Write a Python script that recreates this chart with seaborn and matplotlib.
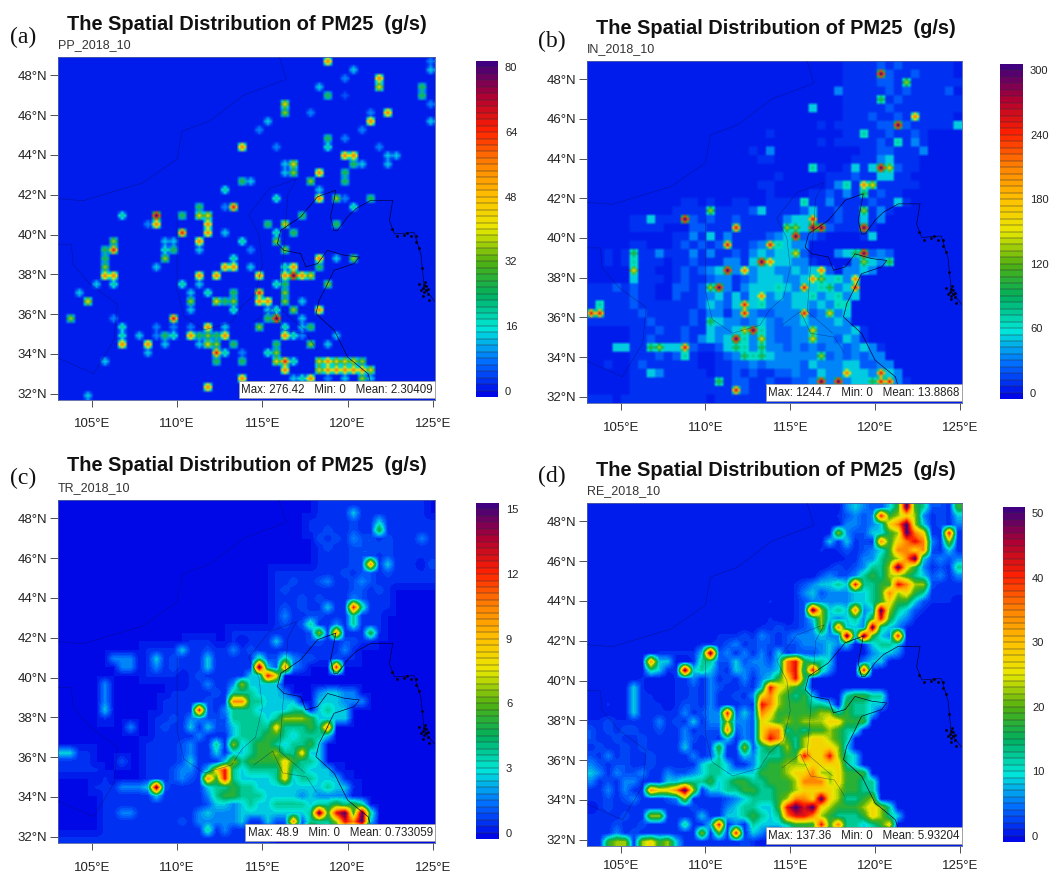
import numpy as np
import matplotlib
matplotlib.use('Agg')
import matplotlib.pyplot as plt
from matplotlib.colors import ListedColormap, Normalize
import seaborn as sns

sns.set_style('ticks')
plt.rcParams['font.family'] = ['Liberation Sans', 'DejaVu Sans']

W, H = 1062, 874
N_COLS, N_ROWS = 44, 40

# share of the colour bar maximum for each letter in the grids below
level_share = {'.': 0, ',': 0.025, '1': 0.06, '2': 0.11, '3': 0.17, '4': 0.25, '5': 0.35,
               '6': 0.45, '7': 0.55, '8': 0.7, '9': 0.85, 'p': 1.02}

# PP: isolated sources, "column:level" for each row
pp_rows = [
    "31:8 43:2", "34:3 43:3", "33:2 37:8", "30:3 37:7 42:5", "31:5 33:1 42:5",
    "26:7 43:2", "26:6 29:2 36:2 38:8", "24:3 36:8 43:3", "23:2 35:2", "31:5 33:2",
    "21:8 25:2 31:4 37:2", "33:8 34:8 38:3 39:3", "26:3 27:7 34:5 35:3 38:3", "26:3 27:6 30:8 33:5",
    "21:5 22:3 29:6 33:5", "19:4 30:3", "25:4 30:8 32:6 33:2 36:5", "16:5 19:2 20:9 34:4",
    "7:4 11:p 14:5 16:7 17:7 28:5", "10:2 11:8 17:8 24:5 26:7 32:5", "14:9 17:8 19:3 25:4 27:5",
    "6:6 12:3 13:3 16:8 21:4 25:6", "5:5 6:9 12:4 13:5 16:3 22:2 26:6", "5:5 12:6 20:4 30:8 32:3 34:6",
    "5:6 11:3 19:8 20:8 22:3 26:4 27:8 30:5", "5:8 6:8 16:8 18:8 23:8 26:8 27:p 28:8 29:7",
    "4:3 6:4 14:4 16:3 25:4 26:5 31:6", "2:3 15:3 17:4 20:5 23:9 26:6",
    "3:7 15:6 18:7 19:5 20:6 23:8 24:8 26:6 28:3", "15:3 20:4 24:3 25:4 27:6 30:8",
    "1:6 6:2 13:9 24:5 25:p 28:3", "7:4 11:2 13:2 15:2 17:8 19:3 23:6 26:4 28:3 29:5",
    "7:4 9:3 11:2 12:5 13:4 15:8 16:5 17:6 18:5 19:8 26:8 27:4 28:2 32:3",
    "7:8 10:8 12:3 16:3 17:7 18:6 20:5 25:5 29:6 31:3", "10:3 18:9 19:4 21:2 24:4 25:6",
    "5:3 18:5 21:5 25:7 26:9 27:4 30:7 31:8 32:7 33:7 34:7 35:6",
    "26:8 30:7 31:8 32:8 33:8 34:8 35:8 36:7", "21:8 27:3 28:4 29:8 31:2 33:3 35:6 36:3",
    "17:8 29:7 35:2", "3:3",
]

in_rows = [
    "..... ..... ..... ..... ..... ..... ,,,,1 ,1,,, ,,,.",
    "..... ..... ..... ..... ..... ..... ,,,,p 1,,1, ,,,.",
    "..... ..... ..... ..... ..... ..... ,,,,1 1,6,, ,,,,",
    "..... ..... ..... ..... ..... ....2 ,,,,, 1,1,, ,,1.",
    "..... ..... ..... ..... ..... ..... ,,,,5 ,1,,, ,,,,",
    "..... ..... ..... ..... ..... .3... ,,,,, 1,,,, ,,,,",
    "..... ..... ..... ..... ..... ..... ,,,1, ,1,8, ,,,.",
    "..... ..... ..... ..... ..... ..,., ,,,,1 1p1,, ,,,3",
    "..... ..... ..... ..... .,... ..... ,,4,, 1,,1, ....",
    "..... ..... ..... ..... ..... ..,., ,,,,1 ,4,2, ....",
    "..... ..... ..... ...., .2... ..... ..,,1 1,,,2 ....",
    "..... ..... ..... ..... ,,... ..... .,,,2 3,,,. ....",
    "..... ..... ..... ..... ..... .4,.. ,3,3p 71,,. ....",
    "..... ..... ..... ..... ..,.. ...,, ,1,,3 3,,.. ....",
    "..... ..... ..... ..... ,,... ...,2 4,87, ,,,,. ....",
    "..... ..... ..... ..... .,... .,,1, 2,5,1 ,,... ....",
    "..... ..... .,,., ..,,. .,,,, 4,,2, ,,,1, ,3,.. ....",
    "..... ..... ,,,,6 ,,,,1 3,,,, 13,,1 ,,6,2 ,.... ....",
    "..... ,,3,, ,p1,1 ,,1,, ,,,23 39,,1 ,,3,2 ..... ....",
    "..... ,,,,. ..11, ,,9,, ,,,66 3pp1, ,,p,. ..... ....",
    "..... ..... ,,2,3 ,2,,, ,123p 11,.. ..,3. ..... ....",
    "..... ,,... ,1,1, 19,,1 29432 2.... ..... ..... ....",
    "..,., 5,,2, ,,2,2 ,,1,2 32337 1...2 35p12 1.... ....",
    "..,., 4,,,. ,,1,, ,22,3 p8332 2,... .2632 5.... ....",
    "..... 7,,.. ,1,12 3p282 33223 2381. 2232. ..... ....",
    "..... 3,,,. ,1,,1 22,12 33322 38634 28... ..... ....",
    ",,,1, 1,,.. 11,16 p2,23 33432 93452 39... ..... ....",
    ",,,,, 1,,.. 1,,12 31313 82323 34234 23... ..... ....",
    ",4,,, 1,,,, ,,,13 21393 42223 32324 4.... ..... ....",
    "99,,, ,1,,, ,,1,2 2,292 11222 91272 3.... ..... ....",
    ",,,,, ,,1,, ,,1,5 32212 32122 32223 2.... ..... ....",
    "..... ,,,1, ,1,,3 2237p 42112 27222 23,.. ..... ....",
    "..... ,,1,, ,1,23 23p42 72112 27221 32,.. ..... ....",
    "...33 ,,563 391,, 13542 52212 12122 1232, ..... ....",
    "..... ,,,1, 14,.. ,1254 53222 22612 12122 ..... ....",
    "..,.. ,1,,, ,,,.. ,,112 12222 13222 33112 2.... ....",
    "..... ,,32, ,,,,. ,,1,1 ,,112 11322 83329 32... ....",
    "..... ,,,,, ,,,,, 5,11, ,1,,1 12p2p 23359 92,.. ....",
    "..... ,,,,, ,,,,, ,,91, ,,1,1 11,,p 1,234 43,.. ....",
    ",,,., ,,,,, ,,,,. ,,,,, ,,,,, ..... ..... ..... ....",
]

tr_rows = [
    "..... ..... ..... ..... ..... ..... ,,,,, ,,,,, ,,,.",
    "..... ..... ..... ..... ..... ..... ,,,,3 ,,,,, ,,,.",
    "..... ..... ..... ..... ..... ...., ,,,,1 ,,3,, ,,,,",
    "..... ..... ..... ..... ..... ...., ,1,,1 ,,5,, ,,,,",
    "..... ..... ..... ..... ..... ..... 1,1,2 11,1, ,,2,",
    "..... ..... ..... ..... ..... ..... ,1,,1 1111, ,,,,",
    "..... ..... ..... ..... ..... ..... ,,,,1 11,1, ,,,,",
    "..... ..... ..... ..... ..... ..... ,,,,1 18,3, ,,.1",
    "..... ..... ..... ..... ..... ,,,,, ,,,1, 11,1, ,,,,",
    "..... ..... ..... ..... ..... ,,1,, 12,,1 21,,, ,,,,",
    "..... ..... ..... ..... ..... ,1,,, ,,,,1 1,1,. ....",
    "..... ..... ..... ..... ..... ,,,1, 1,,,2 1,,,. ....",
    "..... ..... ..... ..... ..... ,1,1, ,3,,9 4,,,. ....",
    "..... ..... ..... ..... ..... ,2,,1 1,,,4 ,,,.. ....",
    "..... ..... ..... ..... ..... ,1,14 ,,2,4 ,,,.. ....",
    "..... ..... ..... ..... ,,,,, ,,,,1 6,8,, ,5,.. ....",
    "..... ..... ..... ,,,.. ,.,,, 3,,,1 1,,11 ,,... ....",
    "..... ..... ,,,,3 ,,1,, 2,1,, ,,,,, ,,,2, ..... ....",
    "..... .222. ,3,1, ,,3,, ,,,41 14211 ,,1,, ..... ....",
    "..... ..22. ,2,1, ,,3,, ,,,p3 1821. ..9.. ..... ....",
    "..... ..... ,,,,. ,1,,, ,,339 7.... ..... ..... ....",
    "..... 2.... ..... ,,2,, 26333 3.... ..... ..... ....",
    "..... 2.... ...,, ,,,1, 44433 32... 23322 ..... ....",
    "..... 2.... ..,,, ,,1,, 88443 333.. 33322 2.... ....",
    "..... 3.... ..,,, ,91,2 44433 3344. 3433. ..... ....",
    "..... ,.... .,,1, 22111 44443 46665 3333. ..... ....",
    "..... ...2. .,1,, 3,311 34444 74445 48... ..... ....",
    "..... ..... .,,,, ,2,,, 34445 54344 43... ..... ....",
    "..... ..... ,,,,1 2,,4, 63455 43445 3.... ..... ....",
    "33,,. ..... ,,,,1 2,,3, 33455 64473 3.... ..... ....",
    ",,,,. ..1.. ,,,,1 3,,,3 64555 57544 3.... ..... ....",
    ",,,,, ..... ,,,12 2,379 43444 47443 33,.. ..... ....",
    "..... ,.... ,,,12 1,859 43333 47344 333,. ..... ....",
    "...., ,,222 3p1,, ,,344 54433 33333 3433, ..... ....",
    "..... ,,,,, ,3,,, ,,245 54443 33323 2222. ..... ....",
    "..... ,,,,, ,,,,, ,,133 23433 44443 44545 4.... ....",
    "..... ,,22, ,,,,, ,2322 23333 33334 p59p5 p4... ....",
    "..... ,,,,, ,,,,1 ,2222 23,,3 11814 44698 p3... ....",
    "..... ,,,,, ,,,,, ,,4,2 ,,,,, ,,,17 43454 4.... ....",
    ",,,,, ,,,,, ,,,,, ,,,,, ,,,,, ..... ..... ..... ....",
]

re_rows = [
    "..... ..... ..... ..... ..... ..... 23211 35p54 11,5",
    "..... ..... ..... ..... ..... ...., 12129 56762 ,1,3",
    "..... ..... ..... ..... ..... ..... 22123 78p63 ,1,2",
    "..... ..... ..... ..... ..... ....6 21133 56p87 ,,9,",
    "..... ..... ..... ..... ..... ...3, 3,1,8 57898 2,6,",
    "..... ..... ..... ..... ..... ..,., 1,123 58878 1,3,",
    "..... ..... ..... ..... ..... ..... ,,224 568p3 1212",
    "..... ..... ..... ..... ..... ...,1 ,1244 6p752 ,1,4",
    "..... ..... ..... ..... ..... ..121 12454 66543 12,2",
    "..... ..... ..... ..... ...., 12334 39445 59866 1,,,",
    "..... ..... ..... ..... ...., 23122 23345 86754 ,,,,",
    "..... ..... ..... ..... .,.., 12222 23345 75531 ,,,.",
    "..... ..... ..... ..... ...., 1p634 3823p 6431, ....",
    "..... ..... ..... ..... .,.., 13632 34259 532,. ....",
    "..... ..... ..... ..... ,,1,, 12618 332p4 32,.. ....",
    "..... ..... ..... ,,,1, 21,12 22322 p3p53 29... ....",
    "..... ..... ...,, ,12,1 11,11 22232 3.,34 43... ....",
    "..... ...,, ,,,3p 12,2, 2,3,1 1123. ...23 32... ....",
    "..... ..833 ..,44 11312 21389 5443. ..233 ..... ....",
    "..... ..43, ,p343 1,321 22389 4942. ..9,. ..... ....",
    "..... .,... ,,2,2 ,1,2, 23579 5.... ..... ..... ....",
    "..... 3,... ,,1,2 1,,1, 39765 4.... ..... ..... ....",
    "..... 3,,.. ,,1,2 ,,1,2 78654 53... 45544 ..... ....",
    "..,.. 3,,,. ,11,2 ,,,1, 98655 5443. 54433 ..... ....",
    "..... 3,,,, ,2,12 29131 87555 55664 5443. ..... ....",
    ",,1,, ,,,2, 1,3,2 26221 76565 66677 555.. ..... ....",
    "1,1,1 1,,1, ,2,11 18121 78845 45565 44... ..... ....",
    "1,,1, ,1,,, ,21,1 ,3,21 79854 67765 4.... ..... ....",
    ",1,,1 ,1,,, ,3,,1 5,,61 45464 67776 3.... ..... ....",
    "1,2,1 ,,1,, ,,2,1 4,,32 44455 97796 43... ..... ....",
    "21,11 ,,1,, ,,,34 43,,2 45566 67777 43... ..... ....",
    "32,21 12,,2 11234 43333 55567 78667 555.. ..... ....",
    "2,1,2 2,,,3 34445 34554 45556 88867 5544. ..... ....",
    ",,2,2 ,,877 8p6,3 34455 44556 77776 5544. ..... ....",
    ",,1,1 2,,,1 26,,, ,1234 44568 87p76 4456. ..... ....",
    ".,1,, ,,,,, ,,1,, ,2344 3359p 9p765 55676 4.... ....",
    ",,,,1 ,,66, ,,,3, ,3345 43489 98654 44576 43... ....",
    ",,,1, ,1,,, ,4,,3 9,2,4 33345 55958 44345 7.... ....",
    ",,,2, 1,,,, ,,,6, 5,9,3 2,,,4 56555 44334 3.... ....",
    ",,566 ,6756 3,,,, ,,,1, ..... ..... ..... ..... ....",
]

run_names = ['PP_2018_10', 'IN_2018_10', 'TR_2018_10', 'RE_2018_10']
panel_tags = ['(a)', '(b)', '(c)', '(d)']
bar_max = [80, 300, 15, 50]
bar_step = [16, 60, 3, 10]
stats_text = ['Max: 276.42   Min: 0   Mean: 2.30409', 'Max: 1244.7   Min: 0   Mean: 13.8868',
              'Max: 48.9   Min: 0   Mean: 0.733059', 'Max: 137.36   Min: 0   Mean: 5.93204']
title_text = 'The Spatial Distribution of PM25  (g/s)'

lon_ticks = [105, 110, 115, 120, 125]
lat_ticks = [48, 46, 44, 42, 40, 38, 36, 34, 32]

# coastline and borders, lon then lat
coast_lon = [125.1, 124.5, 124.3, 123.9, 122.75, 122.45, 122.65, 121.37, 120.49, 120.0, 119.41, 119.2, 119.0, 119.2, 119.3,
             118.24, 117.25, 116.08, 115.88, 116.27, 117.25, 117.55, 118.24, 118.82, 119.8, 120.69, 120.39, 119.2,
             118.73, 118.33, 118.14, 119.22, 120.0, 121.2, 121.37]
coast_lat = [36.65, 37.3, 39.0, 40.1, 40.03, 40.7, 41.72, 41.72, 41.3, 40.89, 40.2, 40.2, 40.89, 41.72, 42.23,
             41.9, 40.89, 40.21, 39.54, 39.2, 39.04, 38.37, 38.54, 39.2, 38.96, 38.87, 38.54, 38.2,
             37.36, 36.69, 36.02, 35.18, 33.84, 33.0, 32.5]
island_lon = [124.2, 124.4, 124.5, 124.6, 124.7, 124.45, 124.55, 123.3, 123.7, 124.0, 124.8, 124.35, 124.3, 124.6, 124.5,
              124.7, 122.6, 122.9, 123.5, 124.2, 124.0]
island_lat = [37.5, 37.3, 37.1, 37.4, 37.0, 36.9, 37.6, 40.0, 39.9, 39.6, 36.7, 38.3, 37.2, 37.2, 37.45, 37.25, 40.3, 39.9,
              40.1, 39.3, 39.9]
border_lon = [103.0, 104.5, 108.0, 110.0, 110.3, 111.9, 113.9, 116.4, 116.0]
border_lat = [41.8, 41.7, 42.6, 43.8, 45.2, 45.7, 47.0, 47.8, 48.9]
prov1_lon = [103.0, 103.8, 103.9, 104.9, 106.5, 106.3, 105.1, 103.0]
prov1_lat = [39.5, 39.5, 38.5, 37.5, 36.5, 34.7, 33.0, 33.8]
prov2_lon = [110.0, 110.0, 110.4, 111.6, 113.2, 113.8, 114.6, 115.0, 114.8, 114.2, 115.4, 117.0, 116.5, 116.0, 117.5]
prov2_lat = [41.0, 37.3, 35.9, 35.2, 35.6, 36.4, 37.0, 38.5, 40.0, 41.0, 42.3, 42.8, 42.0, 36.3, 35.2]
prov3_lon = [114.5, 115.6, 116.2, 117.6, 118.2]
prov3_lat = [35.6, 36.3, 35.2, 35.0, 34.2]

# axes and colour bar boxes in pixels: left, top, right, bottom
map_boxes = [(58, 57, 435, 400), (587, 61, 962, 403), (58, 500, 435, 843), (587, 503, 962, 846)]
bar_boxes = [(476, 61, 498, 397), (1000, 64, 1023, 399), (476, 503, 499, 839), (1003, 507, 1025, 842)]
title_y = [24, 28, 466, 470]
sub_y = [45, 49, 488, 491]
tag_xy = [(10, 37), (538, 41), (10, 478), (538, 476)]
x_label_pad = [8, 9, 9, 5]
# which panels draw their sources small, and the share kept as background there
spot_cap = [0, 0.2, None, None]

palette = sns.blend_palette(['#0008e8', '#0070ff', '#00e8d8', '#00b060', '#50b010', '#e8e800',
                             '#ffc000', '#ff8000', '#ff2000', '#b00030', '#400080'], n_colors=52)


def px_axes(fig, box):
    x0, y0, x1, y1 = box
    return fig.add_axes([x0 / W, 1 - y1 / H, (x1 - x0) / W, (y1 - y0) / H])


def to_col(lon):
    return 3.95 + (np.asarray(lon) - 105) * 1.99


def to_row(lat):
    return 2.14 + (48 - np.asarray(lat)) * 2.32


def dense_grid(rows, top):
    out = np.zeros((N_ROWS, N_COLS))
    for r, row in enumerate(rows):
        row = row.replace(' ', '')[:N_COLS]
        for c, ch in enumerate(row):
            out[r, c] = level_share[ch] * top
    return out


def sparse_grid(rows, top):
    out = np.zeros((N_ROWS, N_COLS))
    for r, row in enumerate(rows):
        for item in row.split():
            c, ch = item.split(':')
            out[r, int(c)] = level_share[ch] * top
    return out


def small_spots(grid, top, cap):
    # each cell becomes 3x3 with a round source in the middle
    fine = np.kron(np.minimum(grid, cap * top), np.ones((3, 3)))
    for r, c in zip(*np.nonzero(grid > cap * top)):
        v = grid[r, c]
        block = fine[3 * r:3 * r + 3, 3 * c:3 * c + 3]
        block[:] = np.maximum(block, 0.3 * v)
        block[1, :] = np.maximum(block[1, :], 0.75 * v)
        block[:, 1] = np.maximum(block[:, 1], 0.75 * v)
        block[1, 1] = v
    return fine


grids = [sparse_grid(pp_rows, bar_max[0]), dense_grid(in_rows, bar_max[1]),
         dense_grid(tr_rows, bar_max[2]), dense_grid(re_rows, bar_max[3])]

fig = plt.figure(figsize=(W / 100, H / 100), dpi=100)

for i in range(4):
    ax = px_axes(fig, map_boxes[i])
    cax = px_axes(fig, bar_boxes[i])
    top = bar_max[i]
    step = top / 50
    edges = np.linspace(-step, top + step, 53)
    sns.heatmap(grids[i], ax=ax, cbar_ax=cax, cmap=palette, vmin=-step, vmax=top + step,
                xticklabels=False, yticklabels=False,
                cbar_kws={'boundaries': edges, 'drawedges': True,
                          'ticks': np.arange(0, top + 1, bar_step[i])})
    cb = ax.collections[0].colorbar
    cb.dividers.set_color('#30303a')
    cb.dividers.set_linewidth(0.35)
    cb.ax.tick_params(length=0, labelsize=8, pad=5, labelcolor='#222222')

    # same cells and colours as the heatmap, drawn soft like the original plot
    shown = grids[i]
    if spot_cap[i] is not None:
        shown = small_spots(grids[i], top, spot_cap[i])
    ax.imshow(shown, cmap=ListedColormap(palette), norm=Normalize(-step, top + step),
              interpolation='bilinear', aspect='auto', extent=(0, N_COLS, N_ROWS, 0), zorder=2)

    line_kw = dict(color='#0a0a50', lw=0.35, alpha=0.55, zorder=3)
    ax.plot(to_col(border_lon), to_row(border_lat), **line_kw)
    ax.plot(to_col(prov1_lon), to_row(prov1_lat), **line_kw)
    ax.plot(to_col(prov2_lon), to_row(prov2_lat), **line_kw)
    ax.plot(to_col(prov3_lon), to_row(prov3_lat), **line_kw)
    ax.plot(to_col(coast_lon), to_row(coast_lat), color='#000030', lw=0.45, zorder=3)
    ax.scatter(to_col(island_lon), to_row(island_lat), s=4, color='#000010', lw=0, zorder=3)

    ax.set_xlim(0, N_COLS)
    ax.set_ylim(N_ROWS, 0)
    ax.set_xticks(to_col(lon_ticks))
    ax.set_xticklabels([f'{v}°E' for v in lon_ticks])
    ax.set_yticks(to_row(lat_ticks))
    ax.set_yticklabels([f'{v}°N' for v in lat_ticks])
    ax.tick_params(axis='both', length=5, width=0.6, labelsize=9.5, color='#333333', labelcolor='#222222')
    ax.tick_params(axis='x', pad=x_label_pad[i])
    ax.tick_params(axis='y', pad=2, length=6)
    for s in ax.spines.values():
        s.set_visible(True)
        s.set_linewidth(0.6)
        s.set_color('#5060a0')

    ax.text(0.994, 0.012, stats_text[i], transform=ax.transAxes, ha='right', va='bottom', fontsize=8.3,
            color='#222222', zorder=6,
            bbox=dict(facecolor='white', edgecolor='#999999', lw=0.5, pad=1.8))

    x0 = map_boxes[i][0]
    fig.text((x0 + 9) / W, 1 - title_y[i] / H, title_text, fontsize=14.4, fontweight='bold',
             ha='left', va='center', color='#111111')
    fig.text(x0 / W, 1 - sub_y[i] / H, run_names[i], fontsize=9, ha='left', va='center', color='#333333')
    fig.text(tag_xy[i][0] / W, 1 - tag_xy[i][1] / H, panel_tags[i], fontsize=17, ha='left', va='center',
             family='Liberation Serif', color='#111111')

fig.savefig('out.png', dpi=100)
